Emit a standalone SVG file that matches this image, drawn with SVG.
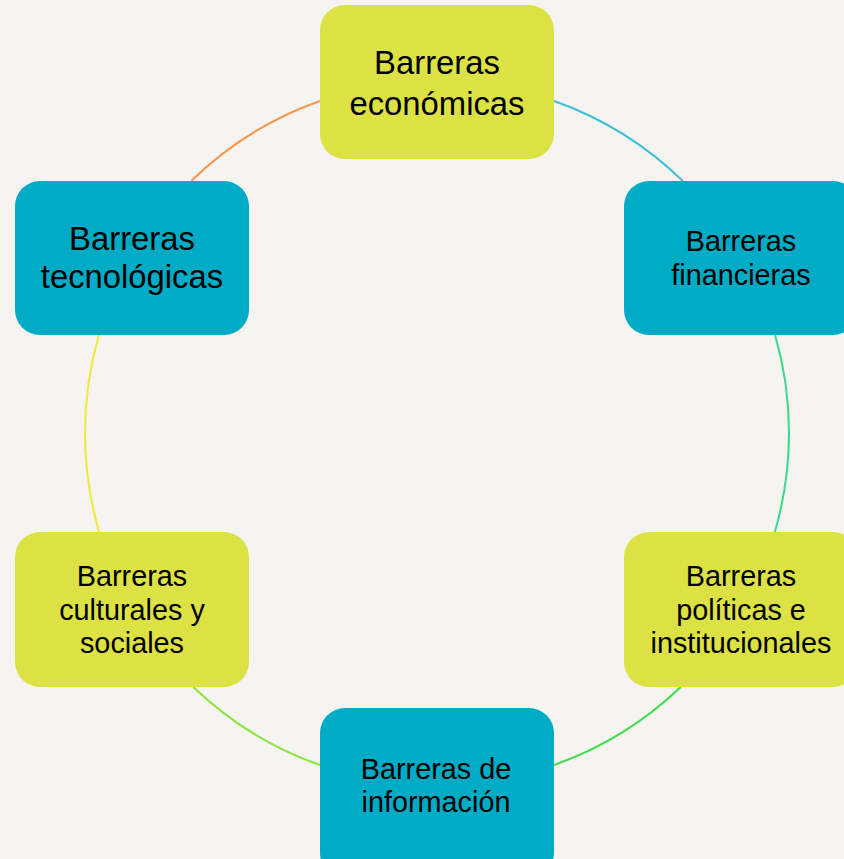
<svg xmlns="http://www.w3.org/2000/svg" width="844" height="859" viewBox="0 0 844 859">
  <style>
    .lime { fill: #DCE244; }
    .teal { fill: #00ABC6; }
    .lbl { font-family: "Liberation Sans", Arial, sans-serif; fill: #000; text-anchor: middle; }
    .big { font-size: 32.8px; }
    .sm { font-size: 28.8px; }
    .arc { fill: none; stroke-width: 2; }
  </style>
  <rect width="844" height="859" fill="#F5F4F0"/>
  <g id="connectors">
    <path class="arc" stroke="#F7974C" d="M191.2,181 A352,352 0 0 1 320,101"/>
    <path class="arc" stroke="#3BBFD4" d="M554,101 A352,352 0 0 1 682.8,181"/>
    <path class="arc" stroke="#3DD88F" d="M775.1,335 A352,352 0 0 1 774.8,532"/>
    <path class="arc" stroke="#3FDD4A" d="M680.7,687 A352,352 0 0 1 554,765"/>
    <path class="arc" stroke="#8BE43C" d="M320,765 A352,352 0 0 1 193.3,687"/>
    <path class="arc" stroke="#EDEA3C" d="M99.2,532 A352,352 0 0 1 98.9,335"/>
  </g>
  <g id="node-economicas">
    <rect class="lime" x="320" y="5" width="234" height="154" rx="25"/>
    <text class="lbl big" x="437" y="74">Barreras</text>
    <text class="lbl big" x="437" y="115">económicas</text>
  </g>
  <g id="node-financieras">
    <rect class="teal" x="624" y="181" width="234" height="154" rx="25"/>
    <text class="lbl sm" x="741" y="251">Barreras</text>
    <text class="lbl sm" x="741" y="285">financieras</text>
  </g>
  <g id="node-politicas">
    <rect class="lime" x="624" y="532" width="234" height="155" rx="25"/>
    <text class="lbl sm" x="741" y="586">Barreras</text>
    <text class="lbl sm" x="741" y="620">políticas e</text>
    <text class="lbl sm" x="741" y="653">institucionales</text>
  </g>
  <g id="node-informacion">
    <rect class="teal" x="320" y="708" width="234" height="170" rx="25"/>
    <text class="lbl sm" x="436" y="779">Barreras de</text>
    <text class="lbl sm" x="436" y="812">información</text>
  </g>
  <g id="node-culturales">
    <rect class="lime" x="15" y="532" width="234" height="155" rx="25"/>
    <text class="lbl sm" x="132" y="586">Barreras</text>
    <text class="lbl sm" x="132" y="620">culturales y</text>
    <text class="lbl sm" x="132" y="653">sociales</text>
  </g>
  <g id="node-tecnologicas">
    <rect class="teal" x="15" y="181" width="234" height="154" rx="25"/>
    <text class="lbl big" x="132" y="250">Barreras</text>
    <text class="lbl big" x="132" y="288">tecnológicas</text>
  </g>
</svg>
